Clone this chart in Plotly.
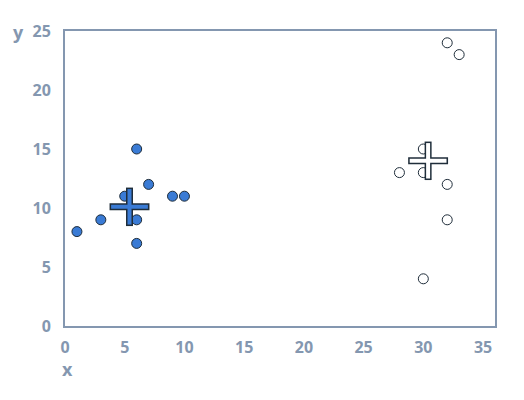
import plotly.graph_objects as go

# Data
blue_x = [1, 3, 5, 6, 6, 6, 7, 9, 10]
blue_y = [8, 9, 11, 15, 9, 7, 12, 11, 11]
white_x = [32, 33, 30, 28, 30, 32, 32, 30]
white_y = [24, 23, 15, 13, 13, 12, 9, 4]
cross_x = [5.4, 30.4]
cross_y = [10.1, 14.0]
cross_fill = ["#3A7BD5", "#FFFFFF"]
x_ticks = [0, 5, 10, 15, 20, 25, 30, 35]
y_ticks = [0, 5, 10, 15, 20, 25]

AX = "#8497B0"
OUT = "#1F2D3A"

fig = go.Figure()
fig.add_trace(go.Scatter(x=blue_x, y=blue_y, mode="markers",
                         marker=dict(size=10, color="#3A7BD5", line=dict(color=OUT, width=1)),
                         showlegend=False))
fig.add_trace(go.Scatter(x=white_x, y=white_y, mode="markers",
                         marker=dict(size=10, color="#FFFFFF", line=dict(color=OUT, width=1)),
                         showlegend=False))

# cross markers: outline layer then fill layer
for sym, size_o in [("line-ew", 28.5), ("line-ns", 27.5)]:
    fig.add_trace(go.Scatter(x=cross_x, y=cross_y, mode="markers",
                             marker=dict(symbol=sym, size=size_o, color=OUT,
                                         line=dict(color=OUT, width=7)),
                             showlegend=False, hoverinfo="skip"))
for sym, size_f in [("line-ew", 26.3), ("line-ns", 25.3)]:
    fig.add_trace(go.Scatter(x=cross_x, y=cross_y, mode="markers",
                             marker=dict(symbol=sym, size=size_f, color=cross_fill,
                                         line=dict(color=cross_fill, width=4)),
                             showlegend=False, hoverinfo="skip"))

tickfont = dict(family="Open Sans", size=16, color=AX, weight="bold")
fig.update_layout(
    width=524, height=400,
    margin=dict(l=57, r=37, t=19, b=82),
    paper_bgcolor="white", plot_bgcolor="white",
    font=dict(family="Open Sans", color=AX),
    xaxis=dict(range=[0, 36], tickvals=x_ticks, showgrid=False, zeroline=False,
               showline=True, mirror=True, linecolor=AX, linewidth=2,
               tickfont=tickfont, ticks="", ticklabelstandoff=6),
    yaxis=dict(range=[0, 25], tickvals=y_ticks, showgrid=False, zeroline=False,
               showline=True, mirror=True, linecolor=AX, linewidth=2,
               tickfont=tickfont, ticks="", ticklabelstandoff=9),
    annotations=[
        dict(text="y", xref="paper", yref="paper", x=-0.109, y=0.997, xanchor="center",
             yanchor="middle", showarrow=False,
             font=dict(family="Open Sans", size=18, color=AX, weight="bold")),
        dict(text="x", xref="paper", yref="paper", x=0.005, y=-0.147, xanchor="center",
             yanchor="middle", showarrow=False,
             font=dict(family="Open Sans", size=18, color=AX, weight="bold")),
    ],
)
fig.write_html("out.html")
